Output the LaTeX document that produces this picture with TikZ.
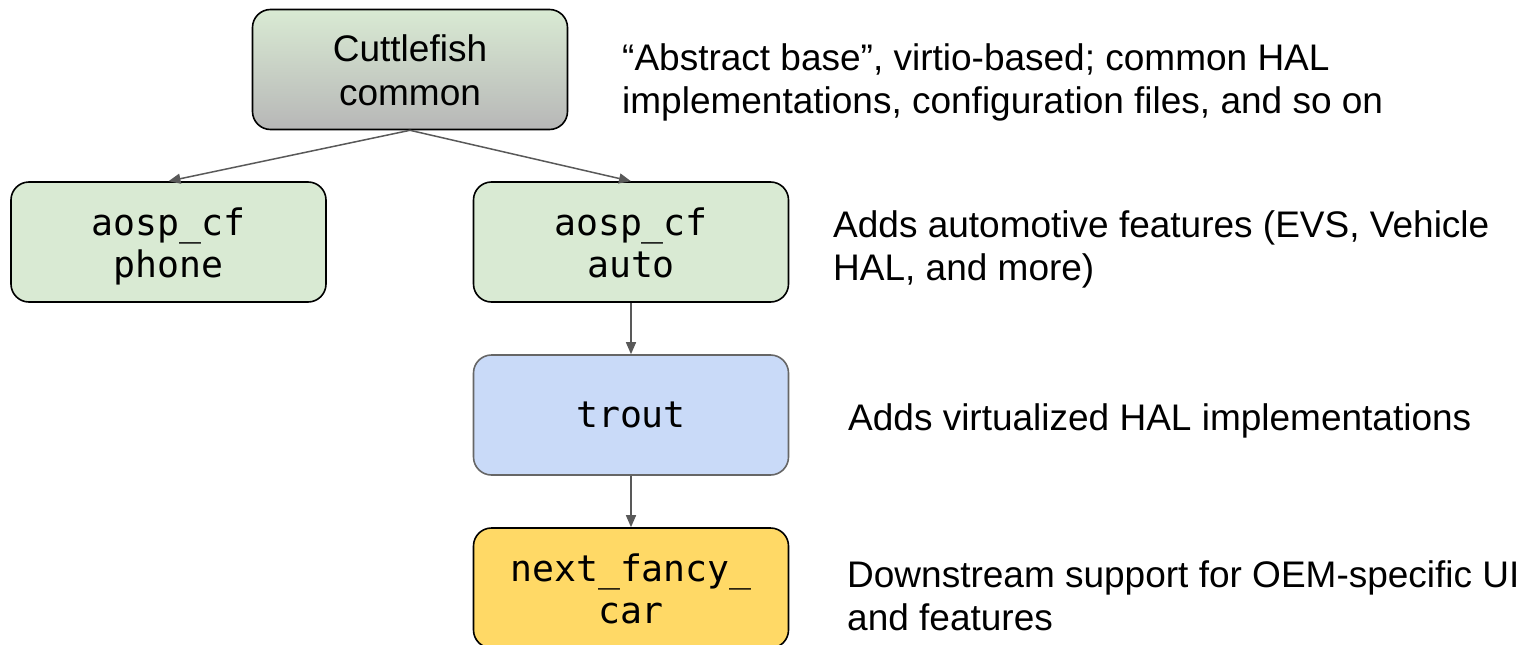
\documentclass[tikz,border=0pt]{standalone}
\usepackage{fontspec}
\setmainfont{Liberation Sans}
\setmonofont{DejaVu Sans Mono}
\usetikzlibrary{arrows.meta}
\definecolor{cfgreen}{HTML}{D9EAD3}
\definecolor{cfgray}{HTML}{B7B7B7}
\definecolor{cfblue}{HTML}{C9DAF8}
\definecolor{cfyellow}{HTML}{FFD966}
\definecolor{cfborder}{HTML}{666666}
\definecolor{cfarrow}{HTML}{595959}
\tikzset{
  box/.style={draw=black, line width=1.6pt, rounded corners=18pt,
    minimum width=315pt, minimum height=120pt, inner sep=0pt, align=center,
    font=\fontsize{37}{44}\selectfont},
  twoline/.style={text height=70pt, text depth=0pt},
  mono/.style={font=\fontsize{36.5}{42}\selectfont\ttfamily},
  desc/.style={anchor=base west, inner sep=0pt, align=left,
    font=\fontsize{37}{43}\selectfont},
  conn/.style={draw=cfarrow, line width=1.5pt,
    -{Triangle[length=12pt,width=10pt]}}
}
\begin{document}
\begin{tikzpicture}[x=1pt,y=-1pt]
\useasboundingbox (0,0) rectangle (1527,645);
\clip (0,0) rectangle (1527,645);
\node[box, text height=71pt, text depth=0pt, top color=cfgreen, bottom color=cfgray] (cf) at (410,69.5) {Cuttlefish\\common};
\node[box, twoline, mono, fill=cfgreen] (phone) at (168.5,242) {aosp\_cf\\phone};
\node[box, twoline, mono, fill=cfgreen] (auto) at (631,242) {aosp\_cf\\auto};
\node[box, mono, draw=cfborder, fill=cfblue, text height=24pt, text depth=0pt] (trout) at (631,415) {trout};
\node[box, twoline, mono, fill=cfyellow] (car) at (631,588) {next\_fancy\_\\car};

\draw[conn] (cf.south) -- (phone.north);
\draw[conn] (cf.south) -- (auto.north);
\draw[conn] (auto.south) -- (trout.north);
\draw[conn] (trout.south) -- (car.north);

\node[desc] (d1) at (622,113) {“Abstract base”, virtio-based; common HAL\\implementations, configuration files, and so on};
\node[desc] (d2) at (833,280) {Adds automotive features (EVS, Vehicle\\HAL, and more)};
\node[desc] (d3) at (848,430) {Adds virtualized HAL implementations};
\node[desc] (d4) at (847,630) {Downstream support for OEM-specific UI\\and features};
\end{tikzpicture}
\end{document}
